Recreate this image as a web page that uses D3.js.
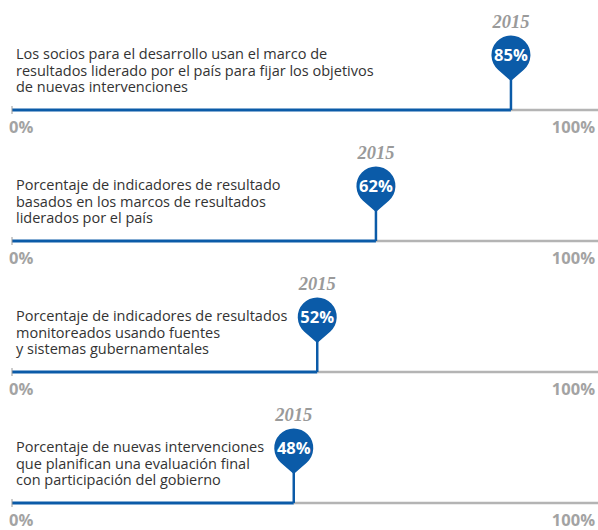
<!DOCTYPE html>
<html><head><meta charset="utf-8">
<script src="https://cdn.jsdelivr.net/npm/d3@7"></script>
<style>body{margin:0;background:#fff}svg{display:block}</style>
</head><body><div id="chart"></div>
<script>
const indicators = [
  ["Los socios para el desarrollo usan el marco de", "resultados liderado por el país para fijar los objetivos", "de nuevas intervenciones"],
  ["Porcentaje de indicadores de resultado", "basados en los marcos de resultados", "liderados por el país"],
  ["Porcentaje de indicadores de resultados", "monitoreados usando fuentes", "y sistemas gubernamentales"],
  ["Porcentaje de nuevas intervenciones", "que planifican una evaluación final", "con participación del gobierno"]
];
const values = [85, 62, 52, 48];
const year = "2015";
const tickLabels = ["0%", "100%"];

const W = 598, H = 530;
const blue = "#0b5ba8", gray = "#b4b4b4", labelGray = "#a3a3a3";
const svg = d3.select("#chart").append("svg").attr("width", W).attr("height", H);

const x = d3.scaleLinear().domain([0, 100]).range([12, 599]);
const yAxis = d3.scalePoint().domain(d3.range(indicators.length)).range([110, 503]);

const R = 19.5, tipOff = 26;
const a = Math.acos(R / tipOff);
const tx = R * Math.sin(a), ty = R * Math.cos(a);
const pinPath = `M0,${tipOff} L${-tx},${ty} A${R},${R} 0 1 1 ${tx},${ty} Z`;

indicators.forEach((lines, i) => {
  const y0 = yAxis(i);
  const g = svg.append("g");
  const v = values[i];
  g.append("line").attr("x1", x(v)).attr("x2", x(100)).attr("y1", y0).attr("y2", y0)
    .attr("stroke", gray).attr("stroke-width", 2.5);
  g.append("line").attr("x1", x(0)).attr("x2", x(v)).attr("y1", y0).attr("y2", y0)
    .attr("stroke", blue).attr("stroke-width", 3);
  g.append("line").attr("x1", x(0)).attr("x2", x(0)).attr("y1", y0 - 4).attr("y2", y0 + 4)
    .attr("stroke", "#999").attr("stroke-width", 1);
  const t = g.append("text").attr("x", 16).attr("y", y0 - 51)
    .attr("font-family", "'Open Sans', sans-serif").attr("font-size", 14.5).attr("fill", "#333");
  lines.forEach((l, j) => t.append("tspan").attr("x", 16).attr("y", y0 - 51 + j * 16.5).text(l));
  g.append("text").attr("x", 9).attr("y", y0 + 23).text(tickLabels[0])
    .attr("font-family", "'Open Sans', sans-serif").attr("font-weight", "bold").attr("font-size", 16.5).attr("fill", labelGray);
  g.append("text").attr("x", 595).attr("y", y0 + 23).attr("text-anchor", "end").text(tickLabels[1])
    .attr("font-family", "'Open Sans', sans-serif").attr("font-weight", "bold").attr("font-size", 16.5).attr("fill", labelGray);
  const cx = x(v), cy = y0 - 55;
  g.append("line").attr("x1", cx).attr("x2", cx).attr("y1", cy + 20).attr("y2", y0)
    .attr("stroke", blue).attr("stroke-width", 2.5);
  g.append("path").attr("d", pinPath).attr("transform", `translate(${cx},${cy})`).attr("fill", blue);
  g.append("text").attr("x", cx).attr("y", cy + 6).attr("text-anchor", "middle").text(v + "%")
    .attr("font-family", "'Open Sans', sans-serif").attr("font-weight", "bold").attr("font-size", 16.5).attr("fill", "#fff");
  g.append("text").attr("x", cx).attr("y", y0 - 82).attr("text-anchor", "middle").text(year)
    .attr("font-family", "'Liberation Serif', 'Times New Roman', serif").attr("font-style", "italic").attr("font-weight", "bold")
    .attr("font-size", 18.5).attr("fill", "#9a9a9a");
});
</script></body></html>
